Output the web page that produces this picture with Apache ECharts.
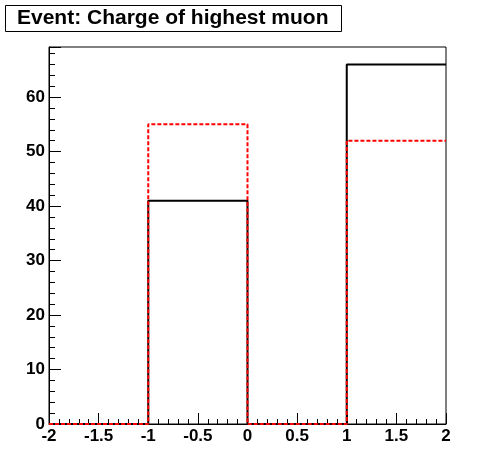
<!DOCTYPE html>
<html><head><meta charset="utf-8">
<script src="https://cdn.jsdelivr.net/npm/echarts@6/dist/echarts.min.js"></script>
<style>html,body{margin:0;padding:0;background:#fff}#c{width:496px;height:472px}</style>
</head><body><div id="c"></div>
<script>
const titleText = "Event: Charge of highest muon";
const binEdges = [-2, -1, 0, 1, 2];
const blackValues = [0, 41, 0, 66];
const redValues = [0, 55, 0, 52];
const yMax = 69.2;

function stepPoints(edges, vals) {
  const pts = [];
  for (let i = 0; i < vals.length; i++) {
    pts.push([edges[i], vals[i]]);
    pts.push([edges[i + 1], vals[i]]);
  }
  return pts;
}

const font = "Liberation Sans, Arial, Helvetica, sans-serif";
const chart = echarts.init(document.getElementById('c'));
chart.setOption({
  animation: false,
  backgroundColor: '#fff',
  grid: { left: 49, right: 50, top: 47, bottom: 48, show: true, borderColor: '#000', borderWidth: 1, backgroundColor: '#fff' },
  xAxis: {
    type: 'value', min: -2, max: 2, interval: 0.5,
    axisLine: { show: true, onZero: false, lineStyle: { color: '#000', width: 1 } },
    axisTick: { show: true, inside: true, length: 11, lineStyle: { color: '#000' } },
    minorTick: { show: true, splitNumber: 5, length: 5, lineStyle: { color: '#000' } },
    splitLine: { show: false },
    axisLabel: { color: '#000', fontFamily: font, fontWeight: 'bold', fontSize: 17, margin: 4 }
  },
  yAxis: {
    type: 'value', min: 0, max: yMax, interval: 10,
    axisLine: { show: true, onZero: false, lineStyle: { color: '#000', width: 1 } },
    axisTick: { show: true, inside: true, length: 12, lineStyle: { color: '#000' } },
    minorTick: { show: true, splitNumber: 5, length: 6, lineStyle: { color: '#000' } },
    splitLine: { show: false },
    axisLabel: { color: '#000', fontFamily: font, fontWeight: 'bold', fontSize: 17, margin: 4, showMaxLabel: false }
  },
  series: [
    { type: 'line', data: stepPoints(binEdges, blackValues), symbol: 'none', lineStyle: { color: '#000', width: 2 }, z: 2 },
    { type: 'line', data: stepPoints(binEdges, redValues), symbol: 'none', lineStyle: { color: '#ff0000', width: 2, type: [4, 2] }, z: 3 }
  ],
  graphic: [
    { type: 'rect', shape: { x: 5.5, y: 5.5, width: 336, height: 26 }, style: { fill: '#fff', stroke: '#000', lineWidth: 1 }, z: 10 },
    { type: 'text', x: 17, y: 18.5, style: { text: titleText, font: 'bold 21px ' + font, fill: '#000', verticalAlign: 'middle' }, z: 11 }
  ]
});
</script></body></html>
